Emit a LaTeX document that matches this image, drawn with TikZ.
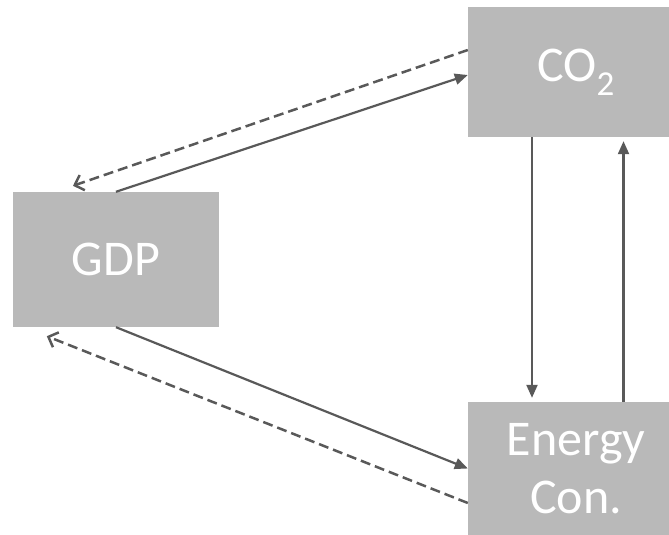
\documentclass[tikz,border=0pt]{standalone}
\usepackage{fontspec}
\setmainfont{Carlito}
\usetikzlibrary{arrows.meta}
\definecolor{boxgray}{HTML}{B9B9B9}
\definecolor{linegray}{HTML}{595959}
\begin{document}
\begin{tikzpicture}[x=1pt, y=-1pt,
    every node/.style={rectangle, fill=boxgray, text=white, inner sep=0pt, align=center, font=\fontsize{50}{58}\selectfont},
    link/.style={draw=linegray, line width=2.2pt, -{Triangle[length=13pt,width=11pt]}},
    back/.style={draw=linegray, line width=2.5pt, dash pattern=on 10pt off 5pt, -{Straight Barb[length=8pt,width=16pt]}}]
    \useasboundingbox (0,0) rectangle (669,535);
    \node[minimum width=201pt, minimum height=130pt] (co2) at (568.5,72) {\hspace*{15pt}CO\textsubscript{2}};
    \node[minimum width=206pt, minimum height=135pt] (gdp) at (116,259.5) {GDP};
    \node[minimum width=201pt, minimum height=133pt] (energy) at (568.5,468.5) {\hspace*{15pt}Energy\\\hspace*{15pt}Con.};
    \draw[link] (gdp.north) -- ([yshift=-3pt]co2.west);
    \draw[back] ([yshift=22pt]co2.west) -- ([xshift=-43pt,yshift=6pt]gdp.north);
    \draw[link] (gdp.south) -- (energy.west);
    \draw[back] ([yshift=-34.5pt]energy.west) -- ([xshift=34pt,yshift=-9pt]gdp.south west);
    \draw[link] ([xshift=-36.5pt]co2.south) -- ([xshift=-36.5pt,yshift=4pt]energy.north);
    \draw[link] ([xshift=55pt]energy.north) -- ([xshift=55pt,yshift=-4pt]co2.south);
\end{tikzpicture}
\end{document}
